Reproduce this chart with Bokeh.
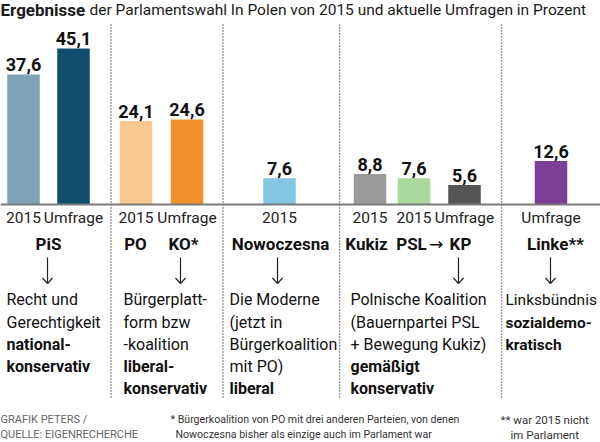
from bokeh.plotting import figure
from bokeh.models import Range1d, ColumnDataSource
from bokeh.core.properties import value
from bokeh.embed import file_html
from bokeh.resources import INLINE

# ---------------- data ----------------
title_bold = "Ergebnisse"
title_rest = "der Parlamentswahl In Polen von 2015 und aktuelle Umfragen in Prozent"

bar_parties = ["PiS", "PiS", "PO", "KO", "Nowoczesna", "Kukiz", "PSL", "KP", "Linke"]
bar_periods = ["2015", "Umfrage", "2015", "Umfrage", "2015", "2015", "2015", "Umfrage", "Umfrage"]
bar_values = [37.6, 45.1, 24.1, 24.6, 7.6, 8.8, 7.6, 5.6, 12.6]
bar_colors = ["#7fa2b5", "#0f4e6e", "#f9c891", "#f0912c", "#84c5e1",
              "#9a9a9a", "#a9d99b", "#555555", "#7c3f98"]

party_labels = ["PiS", "PO", "KO*", "Nowoczesna", "Kukiz", "PSL", "KP", "Linke**"]

desc_blocks = [
    [("Recht und", "normal"), ("Gerechtigkeit", "normal"), ("national-", "bold"), ("konservativ", "bold")],
    [("Bürgerplatt-", "normal"), ("form bzw", "normal"), ("-koalition", "normal"), ("liberal-", "bold"), ("konservativ", "bold")],
    [("Die Moderne", "normal"), ("(jetzt in", "normal"), ("Bürgerkoalition", "normal"), ("mit PO)", "normal"), ("liberal", "bold")],
    [("Polnische Koalition", "normal"), ("(Bauernpartei PSL", "normal"), ("+ Bewegung Kukiz)", "normal"), ("gemäßigt", "bold"), ("konservativ", "bold")],
    [("Linksbündnis", "normal"), ("sozialdemo-", "bold"), ("kratisch", "bold")],
]

source_lines = ["GRAFIK PETERS /", "QUELLE: EIGENRECHERCHE"]
note1_lines = ["* Bürgerkoalition von PO mit drei anderen Parteien, von denen",
               "Nowoczesna bisher als einzige auch im Parlament war"]
note2_lines = ["** war 2015 nicht", "im Parlament"]

# ---------------- layout (pixel space 600 x 442) ----------------
W, H = 600, 442
BASE = 204          # baseline y in pixels
PX_PER_PCT = 3.46

bar_x = [23, 73, 135.5, 186.5, 279, 369.5, 413.5, 464, 550.5]
party_x = [48, 135, 183, 280, 366, 411, 460, 555]
arrow_x = [47, 180, 277, 458, 550]
sep_x = [110.5, 222.5, 339, 501]
desc_x = [6, 123, 229, 350, 505]
desc_size = [16, 16, 16, 16, 15.5]
line_y = [299, 322, 344, 366, 388]

FONT = "Roboto"

def fs(px):
    return f"{px:.1f}px"

p = figure(width=W, height=H, x_range=Range1d(0, W), y_range=Range1d(H, 0),
           x_axis_location=None, y_axis_location=None, toolbar_location=None,
           output_backend="svg", min_border=0)
p.grid.visible = False
p.outline_line_color = None
p.background_fill_color = "white"
p.extra_y_ranges = {"pct": Range1d(-(H - BASE) / PX_PER_PCT, BASE / PX_PER_PCT)}

# title
p.text(x=[0], y=[9], text=[title_bold], text_font=value(FONT), text_font_style="bold",
       text_font_size=fs(17), text_baseline="middle", text_align="left", text_color="#1a1a1a")
p.text(x=[89], y=[9], text=[title_rest], text_font=value(FONT),
       text_font_size=fs(15.5), text_baseline="middle", text_align="left", text_color="#1a1a1a")

# separators
p.segment(x0=sep_x, y0=[24] * len(sep_x), x1=sep_x, y1=[399] * len(sep_x),
          line_color="#333333", line_width=1.3, line_dash="1 2")

# bars
src = ColumnDataSource(dict(x=bar_x, top=bar_values, color=bar_colors,
                            label=[f"{v:.1f}".replace(".", ",") for v in bar_values],
                            period=bar_periods))
p.vbar(x="x", top="top", bottom=0, width=32.5, fill_color="color", line_color=None,
       source=src, y_range_name="pct")
p.text(x="x", y="top", text="label", source=src, y_range_name="pct",
       text_font=value(FONT), text_font_style="bold", text_font_size=fs(18),
       text_align="center", text_baseline="bottom", y_offset=-3, text_color="#111111")

# baseline
p.segment(x0=[0], y0=[BASE], x1=[W], y1=[BASE], line_color="#7a7a7a", line_width=2)

# period labels
p.text(x="x", y=217, text="period", source=src,
       text_font=value(FONT), text_font_size=fs(15.5), text_align="center",
       text_baseline="middle", text_color="#222222")

# party labels
p.text(x=party_x, y=[243] * len(party_x), text=party_labels, text_font=value(FONT),
       text_font_style="bold", text_font_size=fs(17), text_align="center",
       text_baseline="middle", text_color="#111111")
p.text(x=[435.5], y=[243], text=["→"], text_font=value("DejaVu Sans"),
       text_font_size=fs(17), text_align="center", text_baseline="middle", text_color="#111111")

# down arrows
n = len(arrow_x)
p.segment(x0=arrow_x, y0=[257] * n, x1=arrow_x, y1=[283] * n, line_color="#222222", line_width=1.2)
p.segment(x0=[a - 5 for a in arrow_x], y0=[277.5] * n, x1=arrow_x, y1=[283] * n,
          line_color="#222222", line_width=1.2)
p.segment(x0=[a + 5 for a in arrow_x], y0=[277.5] * n, x1=arrow_x, y1=[283] * n,
          line_color="#222222", line_width=1.2)

# description blocks
for bx, size, block in zip(desc_x, desc_size, desc_blocks):
    for (txt, style), yy in zip(block, line_y):
        p.text(x=[bx], y=[yy], text=[txt], text_font=value(FONT), text_font_style=style,
               text_font_size=fs(size), text_align="left", text_baseline="middle",
               text_color="#111111")

# footer
p.text(x=[0, 0], y=[419, 434], text=source_lines, text_font=value(FONT),
       text_font_size=fs(11), text_align="left", text_baseline="middle", text_color="#666666")
p.text(x=[170, 175], y=[419, 434], text=note1_lines, text_font=value(FONT),
       text_font_size=fs(10.6), text_align="left", text_baseline="middle", text_color="#333333")
p.text(x=[500, 510], y=[419, 434], text=note2_lines, text_font=value(FONT),
       text_font_size=fs(11.5), text_align="left", text_baseline="middle", text_color="#333333")

open("out.html", "w").write(file_html(p, INLINE))
